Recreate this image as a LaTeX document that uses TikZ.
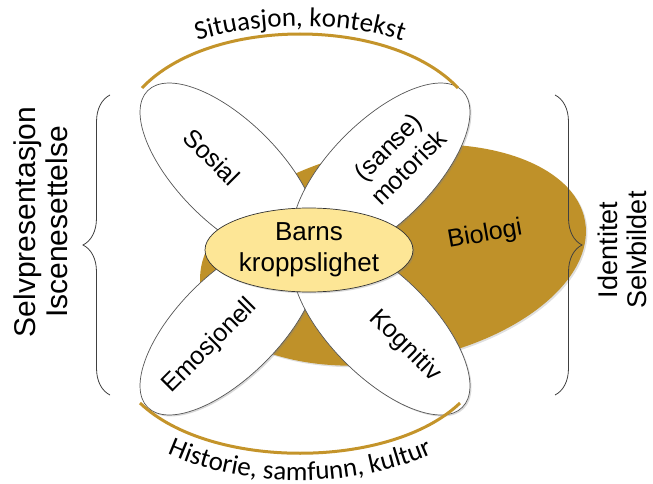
\documentclass[tikz,border=0pt]{standalone}
\usepackage{fontspec}
\setmainfont{Liberation Sans}
\newfontfamily\arcfont{Carlito}
\usetikzlibrary{shapes.geometric,decorations.pathreplacing,decorations.text,shadows}

\definecolor{bioGold}{RGB}{191,145,41}
\definecolor{arcGold}{RGB}{196,148,42}
\definecolor{coreYellow}{RGB}{253,230,150}
\definecolor{petalLine}{RGB}{85,85,85}

\tikzset{
  petal/.style={ellipse, draw=petalLine, line width=0.7pt, fill=white,
    minimum width=230pt, minimum height=102pt, inner sep=0pt,
    drop shadow={shadow xshift=1.5pt, shadow yshift=-1.5pt, opacity=0.3}},
  blob/.style={ellipse, fill=bioGold, minimum width=390pt, minimum height=214pt,
    inner sep=0pt, drop shadow={shadow xshift=1.5pt, shadow yshift=-1.5pt, opacity=0.25}},
  core/.style={ellipse, draw=black!80, line width=0.7pt, fill=coreYellow,
    minimum width=208pt, minimum height=84pt, inner sep=0pt, align=center,
    font=\fontsize{26}{31}\selectfont,
    drop shadow={shadow xshift=1.5pt, shadow yshift=-1.5pt, opacity=0.3}},
  petaltext/.style={font=\fontsize{25}{29}\selectfont, align=center, inner sep=0pt},
  lefttext/.style={font=\fontsize{30}{32}\selectfont, align=center, inner sep=0pt},
  righttext/.style={font=\fontsize{27}{29}\selectfont, align=center, inner sep=0pt},
  arcline/.style={draw=arcGold, line width=3pt},
  brace/.style={decorate, decoration={brace, amplitude=27pt}, draw=black!75, line width=0.8pt},
}

\begin{document}
\begin{tikzpicture}[x=1pt, y=-1pt]
    \useasboundingbox (0,0) rectangle (653,484);

    \coordinate (C0) at (309,250);
    \coordinate (C1) at (229,172);
    \coordinate (C2) at (381,172);
    \coordinate (C3) at (229,326);
    \coordinate (C4) at (381,326);
    \coordinate (C5) at (393,255);

    \coordinate (A1) at (142,88);
    \coordinate (A2) at (458,88);
    \coordinate (A3) at (140,403);
    \coordinate (A4) at (460,403);

    \coordinate (LB1) at (110,395);
    \coordinate (LB2) at (110,95);
    \coordinate (RB1) at (555,95);
    \coordinate (RB2) at (555,395);

    \node[blob, rotate=10] (N5) at (C5) {};

    \node[petal, rotate=-45] (N1) at (C1) {};
    \node[petal, rotate=45]  (N2) at (C2) {};
    \node[petal, rotate=45]  (N3) at (C3) {};
    \node[petal, rotate=-45] (N4) at (C4) {};

    \node[core] (N0) at (C0) {Barns\\kroppslighet};

    \node[petaltext, rotate=-45] (T1) at (212,157) {Sosial};
    \node[petaltext, rotate=45]  (T2) at (398,157) {(sanse)\\motorisk};
    \node[petaltext, rotate=45]  (T3) at (210,346) {Emosjonell};
    \node[petaltext, rotate=-45] (T4) at (405,346) {Kognitiv};
    \node[petaltext, rotate=10]  (T5) at (485,235) {Biologi};

    \node[lefttext, rotate=90]  (L1) at (41,222) {Selvpresentasjon\\Iscenesettelse};
    \node[righttext, rotate=90] (R1) at (622,250) {Identitet\\Selvbildet};

    \draw[brace] (LB1) -- (LB2);
    \draw[brace] (RB1) -- (RB2);

    \draw[arcline] (A1) .. controls (210,16) and (390,16) .. (A2);
    \draw[arcline] (A3) .. controls (210,470) and (390,470) .. (A4);

    \path[decorate, decoration={text along path, text align=center,
        text={|\arcfont\fontsize{27}{30}\selectfont|Situasjon, kontekst}}]
        (130,78) .. controls (200,9) and (400,9) .. (470,78);
    \path[decorate, decoration={text along path, text align=center,
        text={|\arcfont\fontsize{27}{30}\selectfont|Historie, samfunn, kultur}}]
        (119,424) .. controls (210,499) and (390,499) .. (481,424);

\end{tikzpicture}
\end{document}
